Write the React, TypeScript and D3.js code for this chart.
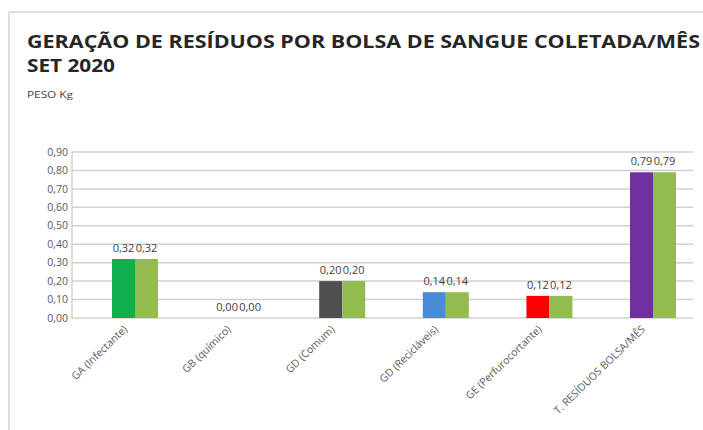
import React from "react";
import * as d3 from "d3";

const categories = [
  "GA (Infectante)",
  "GB (químico)",
  "GD (Comum)",
  "GD (Recicláveis)",
  "GE (Perfurocortante)",
  "T. RESÍDUOS BOLSA/MÊS",
];
const seriesA = [0.32, 0.0, 0.2, 0.14, 0.12, 0.79];
const seriesB = [0.32, 0.0, 0.2, 0.14, 0.12, 0.79];
const colorsA = ["#0fb04b", "#0fb04b", "#4f4f4f", "#4a8bd8", "#fe0000", "#7030a0"];
const colorB = "#93bb4f";
const yTicks = [0, 0.1, 0.2, 0.3, 0.4, 0.5, 0.6, 0.7, 0.8, 0.9];

const W = 703;
const H = 430;
const FONT = "'Open Sans', 'Liberation Sans', sans-serif";

const fmt = (v: number) => d3.format(".2f")(v).replace(".", ",");

export default function App() {
  const plotLeft = 72;
  const plotRight = 693;
  const y = d3.scaleLinear().domain([0, 0.9]).range([318, 152]);
  const x = d3
    .scaleBand<string>()
    .domain(categories)
    .range([83.2, 704.8])
    .paddingInner(0.556)
    .paddingOuter(0.278);
  const sub = d3
    .scaleBand<string>()
    .domain(["a", "b"])
    .range([0, x.bandwidth()]);

  return (
    <svg
      width={W}
      height={H}
      style={{ position: "absolute", left: 0, top: 0, background: "#fff" }}
    >
      <rect x={0} y={0} width={W} height={H} fill="#fff" />
      {/* frame */}
      <line x1={9} y1={12} x2={W} y2={12} stroke="#d4d4d4" strokeWidth={1.5} />
      <line x1={9} y1={12} x2={9} y2={H} stroke="#d4d4d4" strokeWidth={1.5} />

      {/* title */}
      <text
        x={27}
        y={48}
        fontFamily={FONT}
        fontWeight={700}
        fontSize={18.5}
        fill="#262626"
        textLength={673}
        lengthAdjust="spacingAndGlyphs"
      >
        GERAÇÃO DE RESÍDUOS POR BOLSA DE SANGUE COLETADA/MÊS
      </text>
      <text
        x={27}
        y={72}
        fontFamily={FONT}
        fontWeight={700}
        fontSize={18.5}
        fill="#262626"
        textLength={88}
        lengthAdjust="spacingAndGlyphs"
      >
        SET 2020
      </text>
      <text x={27} y={98} fontFamily={FONT} fontSize={9} fill="#404040" textLength={46} lengthAdjust="spacingAndGlyphs">
        PESO Kg
      </text>

      {/* gridlines */}
      {yTicks.map((t) => (
        <line
          key={t}
          x1={plotLeft}
          x2={plotRight}
          y1={y(t)}
          y2={y(t)}
          stroke="#d0d0d0"
          strokeWidth={1.5}
        />
      ))}
      <line x1={plotLeft} x2={plotLeft} y1={y(0.9)} y2={y(0)} stroke="#c8c8c8" strokeWidth={1.2} />

      {/* y tick labels */}
      {yTicks.map((t) => (
        <text
          key={"l" + t}
          x={68}
          y={y(t)}
          dy="0.35em"
          textAnchor="end"
          fontFamily={FONT}
          fontSize={10.5}
          fill="#595959"
        >
          {fmt(t)}
        </text>
      ))}

      {/* bars */}
      {categories.map((c, i) => {
        const x0 = x(c) as number;
        return (
          <g key={c}>
            <rect
              x={x0 + (sub("a") as number)}
              y={y(seriesA[i])}
              width={sub.bandwidth()}
              height={y(0) - y(seriesA[i])}
              fill={colorsA[i]}
            />
            <rect
              x={x0 + (sub("b") as number)}
              y={y(seriesB[i])}
              width={sub.bandwidth()}
              height={y(0) - y(seriesB[i])}
              fill={colorB}
            />
            <text
              x={x0 + (sub("a") as number) + sub.bandwidth() / 2}
              y={y(seriesA[i]) - 7}
              textAnchor="middle"
              fontFamily={FONT}
              fontSize={11}
              fill="#404040"
            >
              {fmt(seriesA[i])}
            </text>
            <text
              x={x0 + (sub("b") as number) + sub.bandwidth() / 2}
              y={y(seriesB[i]) - 7}
              textAnchor="middle"
              fontFamily={FONT}
              fontSize={11}
              fill="#404040"
            >
              {fmt(seriesB[i])}
            </text>
            <text
              transform={`translate(${x0 + x.bandwidth() / 2 - 7},${y(0) + 12}) rotate(-44)`}
              textAnchor="end"
              fontFamily={FONT}
              fontSize={10.5}
              fill="#595959"
            >
              {c}
            </text>
          </g>
        );
      })}
    </svg>
  );
}
